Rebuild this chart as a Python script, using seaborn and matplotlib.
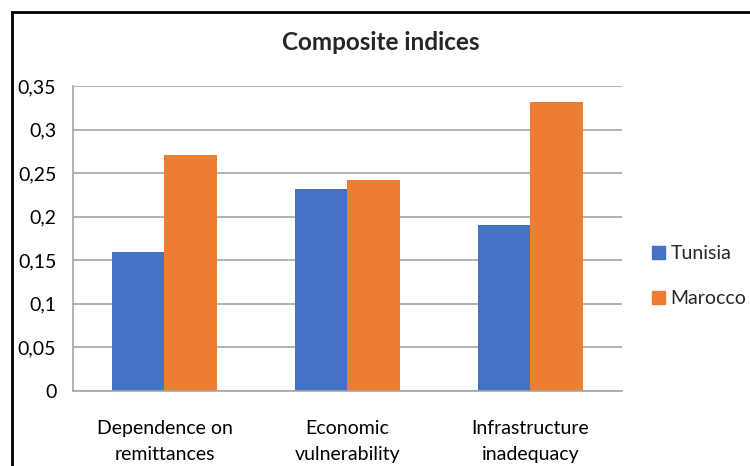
import pandas as pd
import matplotlib.pyplot as plt
import matplotlib.patches as mpatches
from matplotlib.ticker import FuncFormatter, MultipleLocator
import seaborn as sns

categories = ["Dependence on\nremittances", "Economic\nvulnerability", "Infrastructure\ninadequacy"]
countries = ["Tunisia", "Marocco"]
tunisia = [0.16, 0.232, 0.191]
marocco = [0.271, 0.242, 0.332]
colors = ["#4472C4", "#ED7D31"]

df = pd.DataFrame({
    "category": categories * 2,
    "country": [countries[0]] * 3 + [countries[1]] * 3,
    "value": tunisia + marocco,
})

sns.set_theme(style="white")
plt.rcParams["font.family"] = ["Lato", "DejaVu Sans"]

fig = plt.figure(figsize=(7.5, 4.66), dpi=100)
ax = fig.add_axes([73 / 750, 1 - 391 / 466, 549 / 750, 305 / 466])

sns.barplot(data=df, x="category", y="value", hue="country", palette=colors,
            width=0.575, gap=0, saturation=1, linewidth=0, ax=ax, legend=False)

ax.set_ylim(0, 0.35)
ax.yaxis.set_major_locator(MultipleLocator(0.05))
ax.yaxis.set_major_formatter(FuncFormatter(lambda y, _: ("%g" % round(y, 2)).replace(".", ",")))
ax.grid(axis="y", color="#A6A6A6", linewidth=1.2)
ax.set_axisbelow(True)
for side in ["top", "right"]:
    ax.spines[side].set_visible(False)
for side in ["left", "bottom"]:
    ax.spines[side].set_color("#A6A6A6")
    ax.spines[side].set_linewidth(1.2)
ax.set_xlabel("")
ax.set_ylabel("")
ax.tick_params(axis="y", length=0, pad=12, labelsize=14, labelcolor="#000000")
ax.tick_params(axis="x", length=0, pad=21, labelsize=14, labelcolor="#000000")
for lbl in ax.get_xticklabels():
    lbl.set_linespacing(1.62)

fig.text(381 / 750, 1 - 42 / 466, "Composite indices", ha="center", va="center",
         fontsize=17.5, fontweight="bold")

handles = [mpatches.Patch(color=c, label=n) for c, n in zip(colors, countries)]
fig.legend(handles=handles, loc="center left", bbox_to_anchor=(652 / 750, 1 - 276 / 466),
           frameon=False, fontsize=14, handlelength=0.65, handleheight=0.65,
           handletextpad=0.3, labelspacing=1.45, borderaxespad=0, borderpad=0)

fig.patches.append(mpatches.Rectangle((12 / 750, -0.05), 1.0, 1 - 12 / 466 + 0.05,
                                      transform=fig.transFigure, fill=False,
                                      edgecolor="black", linewidth=2, figure=fig))

fig.savefig("out.png", dpi=100)
